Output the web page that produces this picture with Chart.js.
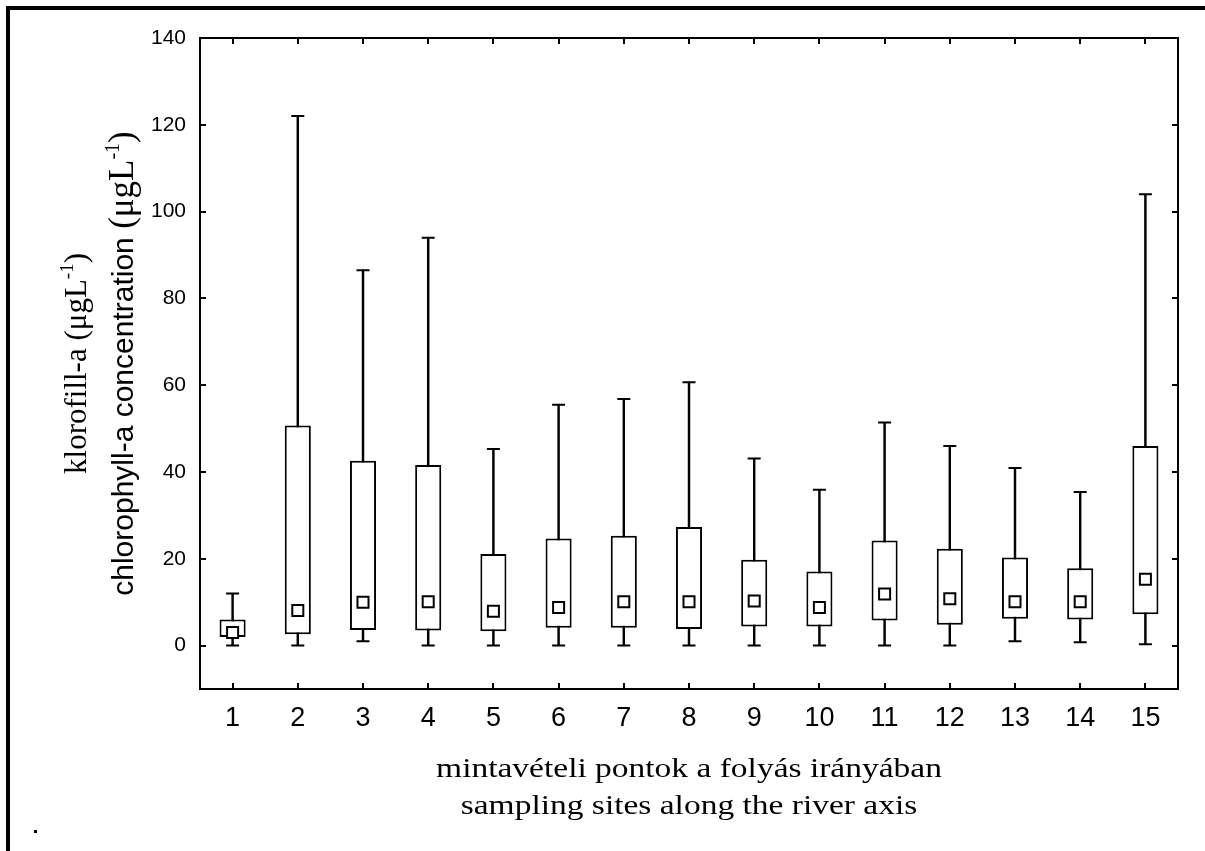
<!DOCTYPE html>
<html>
<head>
<meta charset="utf-8">
<script src="https://cdn.jsdelivr.net/npm/chart.js@4.4.0/dist/chart.umd.min.js"></script>
<style>
  html, body { margin: 0; padding: 0; background: #fff; }
  #wrap { width: 1205px; height: 851px; position: relative; }
</style>
</head>
<body>
<div id="wrap"><canvas id="boxChart"></canvas></div>
<script>
// sampling sites and their chlorophyll-a statistics (µg/L)
var sites = ['1', '2', '3', '4', '5', '6', '7', '8', '9', '10', '11', '12', '13', '14', '15'];
var whiskerLow  = [0, 0, 1, 0, 0, 0, 0, 0, 0, 0, 0, 0, 1, 0.8, 0.3];
var boxLow      = [2, 2.6, 3.6, 3.5, 3.3, 4.1, 4.1, 3.8, 4.4, 4.4, 5.8, 4.8, 6.2, 6.0, 7.2];
var medians     = [3, 8.1, 10, 10.1, 7.9, 8.8, 10.1, 10.1, 10.3, 8.8, 11.9, 10.8, 10.1, 10.1, 15.3];
var boxHigh     = [6, 50.7, 42.6, 41.6, 21.1, 24.7, 25.3, 27.3, 19.8, 17.1, 24.2, 22.3, 20.3, 17.8, 46];
var whiskerHigh = [12, 122, 86.5, 94, 45.3, 55.5, 56.8, 60.7, 43.1, 35.9, 51.4, 46, 40.9, 35.4, 104];
var yTickValues = [0, 20, 40, 60, 80, 100, 120, 140];

var xTitleLines = ['mintavételi pontok a folyás irányában', 'sampling sites along the river axis'];
var SERIF = '"Liberation Serif", "Times New Roman", serif';
var SANS = '"Liberation Sans", Arial, sans-serif';
var yTitleRuns1 = [
    { t: 'klorofill-a (μgL', font: '31px ' + SERIF, dy: 0 },
    { t: '-1', font: '19px ' + SERIF, dy: -13 },
    { t: ')', font: '31px ' + SERIF, dy: 0 }
];
var yTitleRuns2 = [
    { t: 'chlorophyll-a concentration ', font: '30px ' + SANS, dy: 0 },
    { t: '(μgL', font: '35px ' + SERIF, dy: 0 },
    { t: '-1', font: '20px ' + SERIF, dy: -14 },
    { t: ')', font: '35px ' + SERIF, dy: 0 }
];

var ctx = document.getElementById('boxChart').getContext('2d');

// text made of runs with different fonts, rotated to read bottom-up
function drawRotatedRuns(c, x, y, runs) {
    var total = 0;
    runs.forEach(function (r) { c.font = r.font; r.w = c.measureText(r.t).width; total += r.w; });
    c.save();
    c.translate(x, y);
    c.rotate(-Math.PI / 2);
    var pos = -total / 2;
    runs.forEach(function (r) {
        c.font = r.font;
        c.fillText(r.t, pos, r.dy);
        pos += r.w;
    });
    c.restore();
}

// box around the plot with inward ticks on all four sides
var axisFrame = {
    id: 'axisFrame',
    afterDraw: function (chart) {
        var c = chart.ctx, a = chart.chartArea;
        var xs = chart.scales.x, ys = chart.scales.y;
        c.save();
        c.strokeStyle = '#000';
        c.lineWidth = 2;
        c.strokeRect(a.left, a.top, a.right - a.left, a.bottom - a.top);
        c.beginPath();
        sites.forEach(function (s, i) {
            var px = Math.round(xs.getPixelForValue(i));
            c.moveTo(px, a.bottom); c.lineTo(px, a.bottom - 6);
            c.moveTo(px, a.top); c.lineTo(px, a.top + 6);
        });
        yTickValues.forEach(function (v) {
            var py = Math.round(ys.getPixelForValue(v));
            c.moveTo(a.left, py); c.lineTo(a.left + 6, py);
            c.moveTo(a.right, py); c.lineTo(a.right - 6, py);
        });
        c.stroke();

        // page frame and the stray dot
        c.fillStyle = '#000';
        c.fillRect(6, 6, 1199, 4);
        c.fillRect(6, 6, 4, 845);
        c.fillRect(34, 830, 3, 3);
        c.restore();
    }
};

var axisTitles = {
    id: 'axisTitles',
    afterDraw: function (chart) {
        var c = chart.ctx, a = chart.chartArea;
        var cx = (a.left + a.right) / 2, cy = (a.top + a.bottom) / 2;
        c.save();
        c.fillStyle = '#000';
        c.textBaseline = 'alphabetic';
        c.textAlign = 'left';
        drawRotatedRuns(c, 86, cy, yTitleRuns1);
        drawRotatedRuns(c, 133, cy, yTitleRuns2);

        c.textAlign = 'center';
        c.font = '27px ' + SERIF;
        [777, 814].forEach(function (base, i) {
            c.save();
            c.translate(cx, base);
            c.scale(1.24, 1);
            c.fillText(xTitleLines[i], 0, 0);
            c.restore();
        });
        c.restore();
    }
};

var boxData = boxLow.map(function (v, i) { return [v, boxHigh[i]]; });
var rangeData = whiskerLow.map(function (v, i) { return [v, whiskerHigh[i]]; });

var chart = new Chart(ctx, {
    type: 'bar',
    data: {
        labels: sites,
        datasets: [
            {
                type: 'line', label: 'median', data: medians, showLine: false,
                pointStyle: 'rect', pointRadius: 7.8, pointHoverRadius: 7.8,
                pointBackgroundColor: '#fff', pointBorderColor: '#000', pointBorderWidth: 2,
                order: 0
            },
            {
                type: 'line', label: 'max', data: whiskerHigh, showLine: false,
                pointStyle: 'line', pointRadius: 6.5, pointHoverRadius: 6.5,
                pointBorderColor: '#000', pointBorderWidth: 2, order: 0
            },
            {
                type: 'line', label: 'min', data: whiskerLow, showLine: false,
                pointStyle: 'line', pointRadius: 6.5, pointHoverRadius: 6.5,
                pointBorderColor: '#000', pointBorderWidth: 2, order: 0
            },
            {
                type: 'bar', label: 'box', data: boxData,
                backgroundColor: '#fff', borderColor: '#000', borderWidth: 2, borderSkipped: false,
                barPercentage: 0.4, categoryPercentage: 1, grouped: false, order: 1
            },
            {
                type: 'bar', label: 'range', data: rangeData,
                backgroundColor: '#000', borderWidth: 0, barThickness: 1.8, grouped: false, order: 2
            }
        ]
    },
    options: {
        responsive: true,
        maintainAspectRatio: false,
        animation: false,
        layout: { padding: { top: 38, right: 27, left: 0, bottom: 0 } },
        plugins: { legend: { display: false }, tooltip: { enabled: false } },
        scales: {
            x: {
                offset: true,
                grid: { display: false, drawTicks: false },
                border: { display: false },
                ticks: { font: { family: SANS, size: 27 }, color: '#000', padding: 13, maxRotation: 0, autoSkip: false },
                afterFit: function (s) { s.height = 162; }
            },
            y: {
                min: -10, max: 140,
                grid: { display: false, drawTicks: false },
                border: { display: false },
                ticks: { font: { family: SANS, size: 21 }, color: '#000', padding: 14 },
                afterBuildTicks: function (s) { s.ticks = yTickValues.map(function (v) { return { value: v }; }); },
                afterFit: function (s) { s.width = 200; }
            }
        }
    },
    plugins: [axisFrame, axisTitles]
});
</script>
</body>
</html>
